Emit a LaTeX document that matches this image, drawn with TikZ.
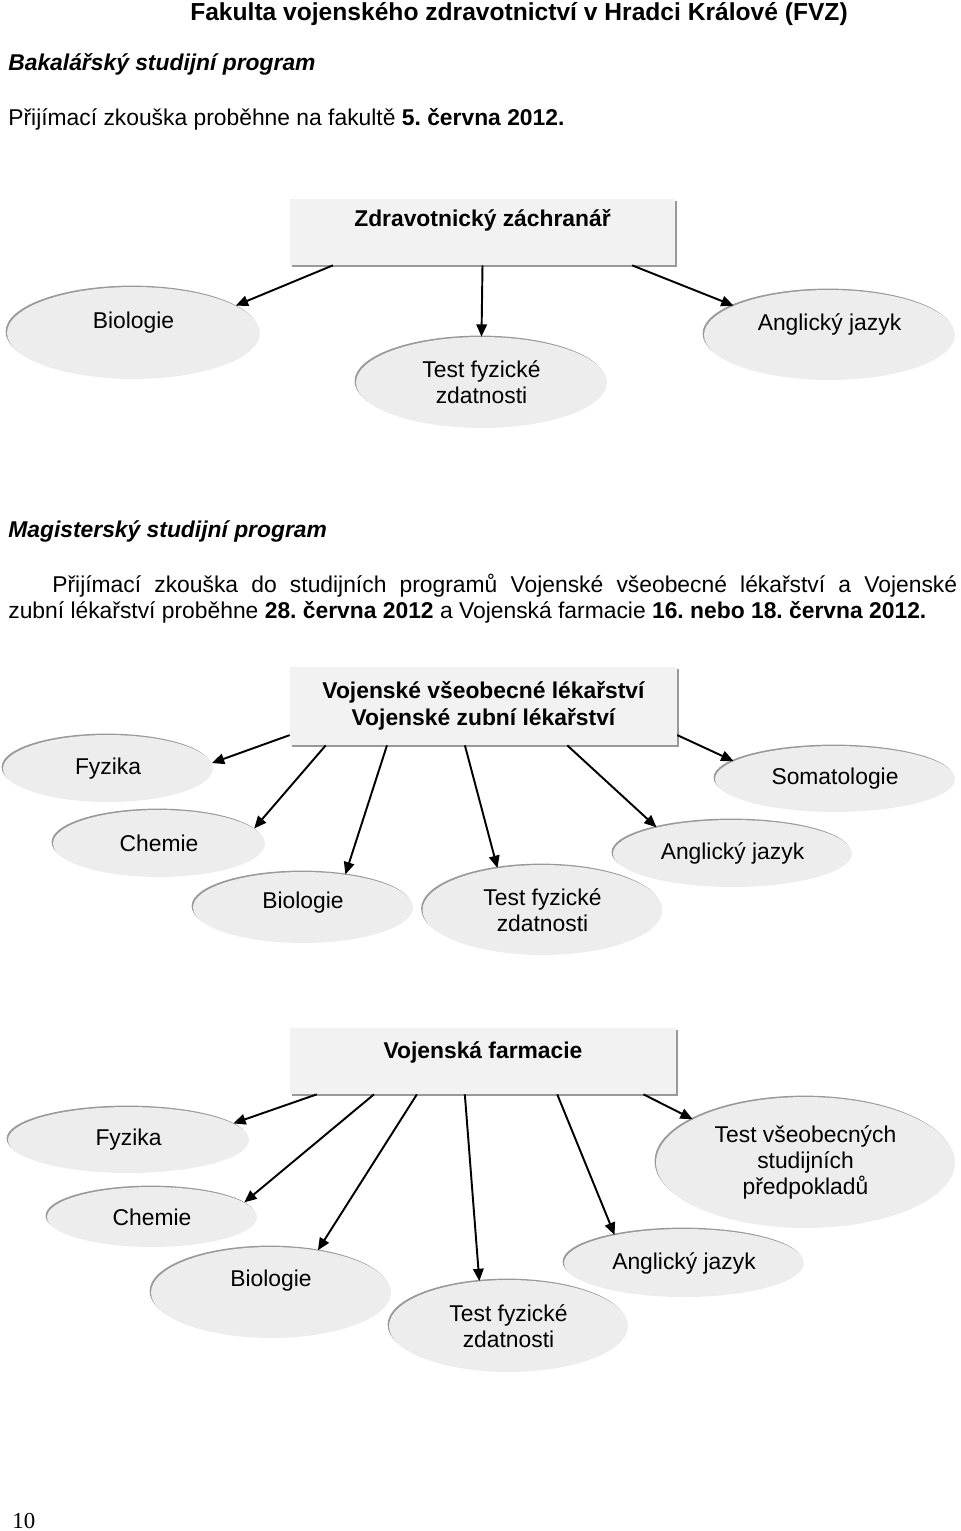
\documentclass[tikz,border=0pt]{standalone}
\usepackage{fontspec}
\setmainfont{Liberation Sans}
\newfontfamily\pagefont{Liberation Serif}
\usetikzlibrary{shapes.geometric, shadows, calc, arrows.meta}

\begin{document}
\frenchspacing
\begin{tikzpicture}[x=0.02cm,y=-0.02cm,
  every node/.style={font=\fontsize{13}{15}\selectfont,inner sep=0pt},
  prog/.style={rectangle,fill=black!5,align=center,font=\fontsize{13}{15}\selectfont\bfseries,
    drop shadow={shadow xshift=1pt,shadow yshift=-1pt,fill=black!40,opacity=1}},
  subj/.style={ellipse,fill=black!7,align=center,
    drop shadow={shadow xshift=-0.8pt,shadow yshift=0.8pt,fill=black!40,opacity=1}},
  arr/.style={-{Triangle[length=7pt,width=6pt]},line width=1.1pt}]
  \useasboundingbox (0,0) rectangle (960,1531);
%
  \node(fvz)[font=\fontsize{14}{16}\selectfont\bfseries] at (519,14) {Fakulta vojenského zdravotnictví v Hradci Králové (FVZ)};
  \node(bak)[anchor=west,font=\fontsize{13}{15}\selectfont\bfseries\itshape] at (8,64) {Bakalářský studijní program};
  \node(pzbak)[anchor=west] at (8,119) {Přijímací zkouška proběhne na fakultě \textbf{5. června 2012.}};
%
  \node(zz)[prog,minimum width=7.7cm,minimum height=1.32cm,text depth=16pt] at (482.5,232) {Zdravotnický záchranář};
  \node(b1bio)[subj,minimum width=5.06cm,minimum height=1.84cm,text depth=14.9pt] at (133.5,333) {Biologie};
  \node(b1test)[subj,minimum width=5.02cm,minimum height=1.82cm] at (481.5,382.5) {Test fyzické\\zdatnosti};
  \node(b1engl)[subj,minimum width=5.02cm,minimum height=1.8cm,text depth=14.3pt] at (829.5,335) {Anglický jazyk};
%
  \node(mag)[anchor=west,font=\fontsize{13}{15}\selectfont\bfseries\itshape] at (8,531) {Magisterský studijní program};
  \node(pzmag1)[anchor=west] at (52,586) {\makebox[18.1cm][s]{Přijímací zkouška do studijních programů Vojenské všeobecné lékařství a Vojenské}};
  \node(pzmag2)[anchor=west] at (8,612) {zubní lékařství proběhne \textbf{28. června 2012} a Vojenská farmacie \textbf{16. nebo 18. června 2012.}};
%
  \node(vl)[prog,minimum width=7.74cm,minimum height=1.56cm] at (483.5,706) {Vojenské všeobecné lékařství\\Vojenské zubní lékařství};
  \node(b2fyz)[subj,minimum width=4.2cm,minimum height=1.34cm] at (108,768.5) {Fyzika};
  \node(b2chem)[subj,minimum width=4.24cm,minimum height=1.34cm] at (159,843.5) {Chemie};
  \node(b2bio)[subj,minimum width=4.4cm,minimum height=1.42cm,text depth=8.7pt] at (303,907.5) {Biologie};
  \node(b2test)[subj,minimum width=4.8cm,minimum height=1.8cm] at (542.5,910) {Test fyzické\\zdatnosti};
  \node(b2engl)[subj,minimum width=4.78cm,minimum height=1.34cm] at (732.5,853.5) {Anglický jazyk};
  \node(b2som)[subj,minimum width=4.8cm,minimum height=1.32cm] at (835,779) {Somatologie};
%
  \node(vf)[prog,minimum width=7.72cm,minimum height=1.32cm,text depth=12.7pt] at (483,1061) {Vojenská farmacie};
  \node(b3fyz)[subj,minimum width=4.82cm,minimum height=1.32cm] at (128.5,1140) {Fyzika};
  \node(b3chem)[subj,minimum width=4.2cm,minimum height=1.2cm] at (152,1217) {Chemie};
  \node(b3bio)[subj,minimum width=4.8cm,minimum height=1.82cm,text depth=16.7pt] at (271,1292.5) {Biologie};
  \node(b3test)[subj,minimum width=4.78cm,minimum height=1.84cm] at (508.5,1326) {Test fyzické\\zdatnosti};
  \node(b3engl)[subj,minimum width=4.8cm,minimum height=1.36cm] at (684,1263) {Anglický jazyk};
  \node(b3tvsp)[subj,minimum width=5.98cm,minimum height=2.62cm] at (805.5,1162.5) {Test všeobecných\\studijních\\předpokladů};
%
  \node(page)[anchor=west,font=\fontsize{13}{15}\pagefont] at (12,1521) {10};
%
\draw[arr]($(zz.south west)!0.112!(zz.south east)$)--(b1bio.15);
\draw[arr](zz.south)--(b1test.north);
\draw[arr]($(zz.south west)!0.888!(zz.south east)$)--(b1engl.163);
%
\draw[arr]($(vl.south west)!0.13!(vl.north west)$)--(b2fyz.3);
\draw[arr]($(vl.south west)!0.093!(vl.south east)$)--(b2chem.9);
\draw[arr]($(vl.south west)!0.251!(vl.south east)$)--(b2bio.38);
\draw[arr]($(vl.south west)!0.452!(vl.south east)$)--(b2test.137);
\draw[arr]($(vl.south west)!0.716!(vl.south east)$)--(b2engl.161);
\draw[arr]($(vl.south east)!0.13!(vl.north east)$)--(b2som.170);
%
\draw[arr]($(vf.south west)!0.070!(vf.south east)$)--(b3fyz.9);
\draw[arr]($(vf.south west)!0.218!(vf.south east)$)--(b3chem.9);
\draw[arr]($(vf.south west)!0.329!(vf.south east)$)--(b3bio.42);
\draw[arr]($(vf.south west)!0.453!(vf.south east)$)--(b3test.123);
\draw[arr]($(vf.south west)!0.692!(vf.south east)$)--(b3engl.158);
\draw[arr]($(vf.south west)!0.915!(vf.south east)$)--(b3tvsp.159);
\end{tikzpicture}
\end{document}
